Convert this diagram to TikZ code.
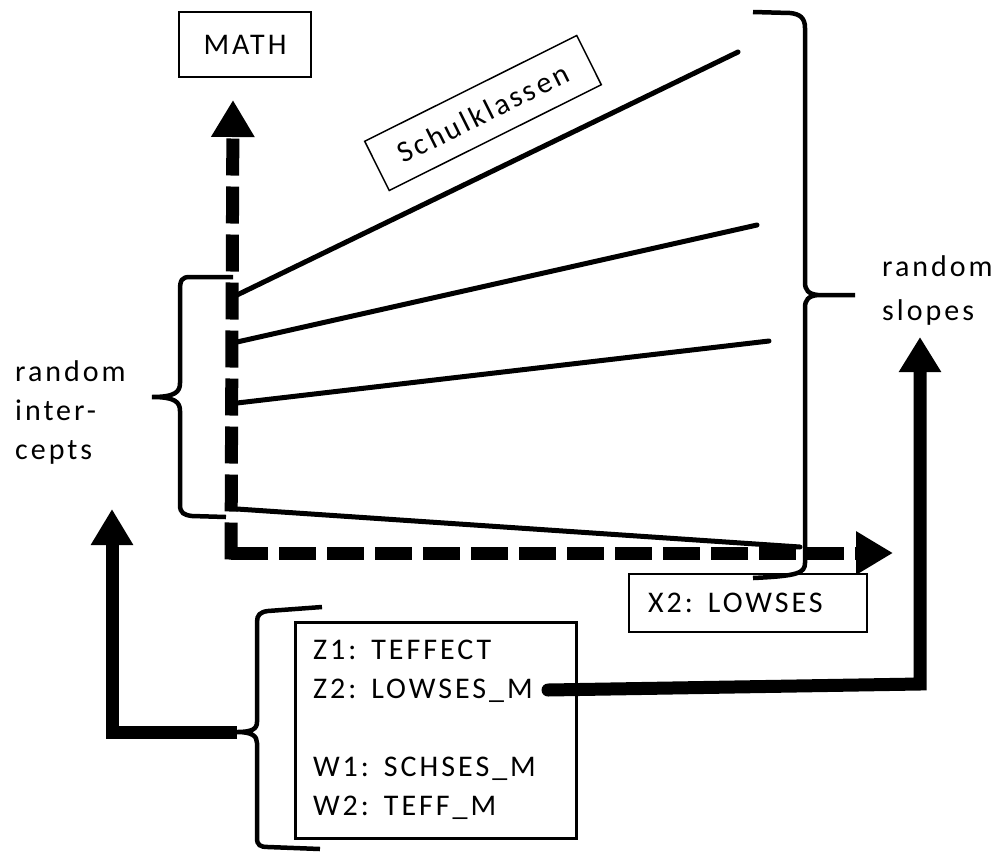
\documentclass[tikz,border=0pt]{standalone}
\usepackage{fontspec}
\setmainfont{Carlito}[LetterSpace=10]
\usetikzlibrary{arrows.meta}

\begin{document}
\begin{tikzpicture}[
    x=1pt, y=-1pt,
    >={Triangle[length=37pt,width=41pt]},
    font=\fontsize{30}{39}\selectfont,
    box/.style={rectangle, draw, line width=1.5pt, inner sep=0pt},
    axisline/.style={line width=13pt, dash pattern=on 37pt off 11pt},
    fat/.style={line width=13pt, line join=miter},
    slope/.style={line width=5pt, line cap=round},
    bracket/.style={line width=4.5pt}
  ]
    \useasboundingbox (0,0) rectangle (999,852);

    % labels
    \node[box, minimum width=132pt, minimum height=65pt] (math) at (245,44.5) {MATH};
    \node[box, minimum width=237pt, minimum height=55pt, rotate=26.5] (classes) at (483,113) {Schulklassen};
    \node[box, minimum height=58pt, text width=200pt, inner xsep=19pt, align=left] (lowses) at (748,603) {X2: LOWSES};
    \node[box, line width=3pt, minimum height=216pt, text width=245pt, inner xsep=18pt, align=left] (level2) at (435.5,730)
      {Z1: TEFFECT\\Z2: LOWSES\_M\\[39pt]W1: SCHSES\_M\\W2: TEFF\_M};
    \node[align=left, anchor=west, inner sep=0pt] (intercepts) at (15,412) {random\\inter-\\cepts};
    \node[align=left, anchor=west, inner sep=0pt, font=\fontsize{30}{44}\selectfont] (slopes) at (882,290) {random\\slopes};

    \coordinate (origin) at (231,553);
    \coordinate (ytop) at (233,100);
    \coordinate (xend) at (893,553);
    \coordinate (tipB) at (237,732);
    \coordinate (arrL) at (112,509);
    \coordinate (z2end) at (548,690);
    \coordinate (arrR) at (920,337);

    % class lines
    \foreach \ya/\xb/\yb in {295/738/52, 342/757/225, 403/769/341, 509/800/547}
      \draw[slope] (237,\ya) -- (\xb,\yb);

    % axes
    \draw[axisline, ->] ([yshift=-6.5pt]origin) -- (ytop);
    \draw[axisline, ->] (origin) -- (xend);

    % braces
    \draw[bracket] (753,12) -- (790,13) .. controls (800,14) and (805,18) .. (805,28) -- (805,282)
      .. controls (805,290) and (808,294) .. (818,295) -- (855,295) -- (818,295)
      .. controls (808,296) and (805,300) .. (805,308) -- (805,563)
      .. controls (805,573) and (798,576) .. (753,578);
    \draw[bracket] (233,277) -- (190,277) .. controls (182,277) and (180,280) .. (180,290) -- (180,383)
      .. controls (180,392) and (175,397) .. (152,397)
      .. controls (175,397) and (180,402) .. (180,411) -- (180,505)
      .. controls (180,513) and (184,515) .. (192,516) -- (226,517);
    \draw[bracket] (322,607) -- (268,611) .. controls (260,612) and (257,615) .. (257,622) -- (257,722)
      .. controls (257,729) and (252,732) .. (237,732)
      .. controls (252,732) and (257,736) .. (257,743) -- (257,838)
      .. controls (257,845) and (260,847) .. (268,847) -- (320,849);

    % arrows to the random effects
    \draw[fat, ->, >={Triangle[length=36pt,width=40pt]}] (tipB) -| (arrL);
    \draw[fat, ->, line cap=round, >={Triangle[length=35pt,width=40pt]}] (z2end) -- (920,684) -- (arrR);
  \end{tikzpicture}
\end{document}
